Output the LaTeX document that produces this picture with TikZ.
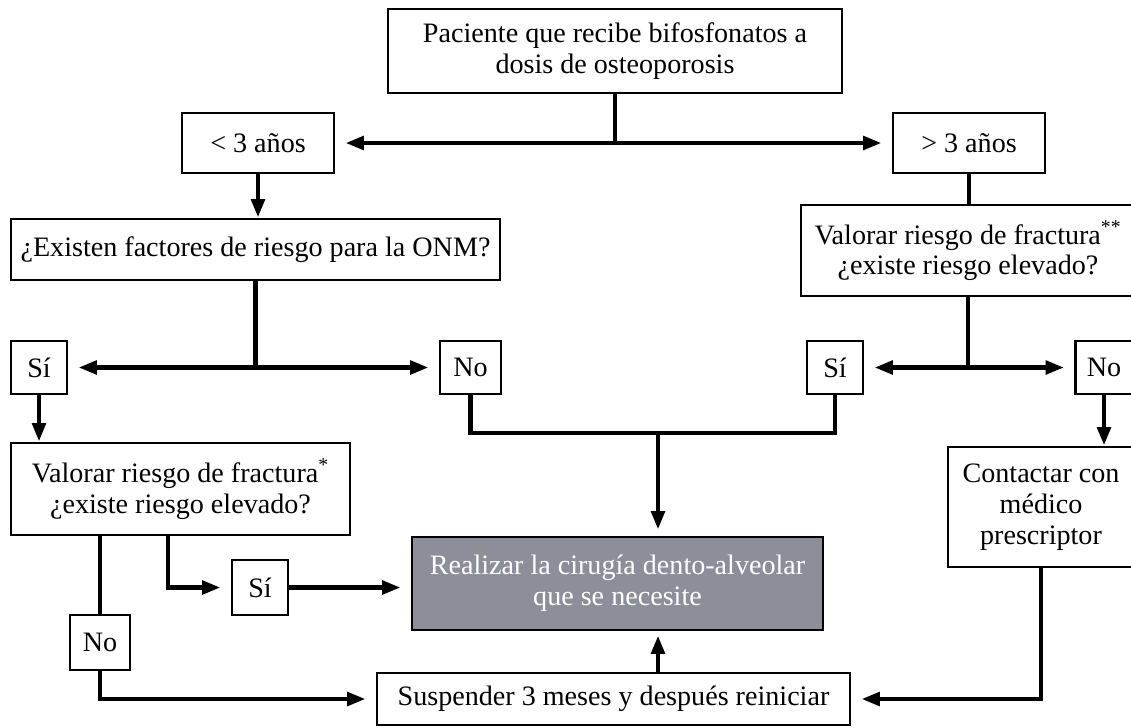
\documentclass[tikz,border=0pt]{standalone}
\usepackage{fontspec}
\setmainfont{Liberation Serif}
\usetikzlibrary{arrows.meta}
\definecolor{grisreal}{RGB}{140,142,154}

\begin{document}
\begin{tikzpicture}[x=0.02cm,y=-0.02cm,
  caja/.style={draw, line width=1.6pt, align=center, inner sep=0pt,
    font=\fontsize{16}{17.5}\selectfont},
  linea/.style={line width=2.8pt},
  flecha/.style={linea, -{Triangle[length=10.5pt,width=7.5pt]}},
  hueco/.style={shorten >=0.2cm}]
\useasboundingbox (0,0) rectangle (1131,727);
%
\node[caja, minimum width=9.08cm, minimum height=1.68cm] (pac) at (615,51)
  {Paciente que recibe bifosfonatos a\\dosis de osteoporosis};
\node[caja, minimum width=3.04cm, minimum height=1.2cm] (menos) at (258,143) {< 3 años};
\node[caja, minimum width=3.04cm, minimum height=1.2cm] (mas) at (969,143) {> 3 años};
\node[caja, minimum width=9.78cm, minimum height=1.22cm] (factores) at (255.5,249.5)
  {¿Existen factores de riesgo para la ONM?};
\node[caja, minimum width=6.68cm, minimum height=1.82cm] (valdos) at (968,250.5)
  {Valorar riesgo de fractura\textsuperscript{**}\\¿existe riesgo elevado?};
%
\node[caja, minimum width=1.12cm, minimum height=1.06cm] (siuno) at (39,367.5) {Sí};
\node[caja, minimum width=1.22cm, minimum height=1.06cm] (nouno) at (470.5,367.5) {No};
\node[caja, minimum width=1.12cm, minimum height=1.06cm] (sidos) at (835,367.5) {Sí};
\node[caja, minimum width=1.14cm, minimum height=1.06cm] (nodos) at (1104,367.5) {No};
%
\node[caja, minimum width=6.78cm, minimum height=1.84cm] (valuno) at (180.5,489)
  {Valorar riesgo de fractura\textsuperscript{*}\\¿existe riesgo elevado?};
\node[caja, minimum width=3.72cm, minimum height=2.4cm] (contacto) at (1041,507)
  {Contactar con\\médico\\prescriptor};
\node[caja, fill=grisreal, text=white, minimum width=8.22cm, minimum height=1.86cm] (cirugia) at (617.5,583.5)
  {Realizar la cirugía dento-alveolar\\que se necesite};
\node[caja, minimum width=1.12cm, minimum height=1.1cm] (sitres) at (260,587.5) {Sí};
\node[caja, minimum width=1.2cm, minimum height=1.1cm] (notres) at (100,642.5) {No};
\node[caja, minimum width=9.46cm, minimum height=1.04cm] (suspender) at (613.5,699)
  {Suspender 3 meses y después reiniciar};
%
\draw[linea] (pac) -- (pac |- menos) coordinate (ja);
\draw[flecha, hueco] (ja) -- (menos);
\draw[flecha, hueco] (ja) -- (mas);
\draw[flecha] (menos.south) -- (menos.south |- factores.north);
\draw[linea] (mas.south) -- (mas.south |- valdos.north);
%
\draw[linea] (factores) -- (factores |- siuno) coordinate (jb);
\draw[flecha, hueco] (jb) -- (siuno);
\draw[flecha, hueco] (jb) -- (nouno);
\draw[linea] (valdos) -- (valdos |- sidos) coordinate (jc);
\draw[flecha, hueco] (jc) -- (sidos);
\draw[flecha, hueco] (jc) -- (nodos);
%
\coordinate (jd) at (658,433);
\draw[linea] (nouno.south) |- (jd) -| (sidos.south);
\draw[flecha, shorten >=0.12cm] (jd) -- (jd |- cirugia.north);
\draw[flecha] (siuno.south) -- (siuno.south |- valuno.north);
\draw[flecha] (nodos.south) -- (nodos.south |- contacto.north);
%
\draw[linea] (valuno.south -| notres) -- (notres);
\draw[flecha, hueco] (notres.south) |- (suspender.west);
\draw[flecha, hueco] ([xshift=-0.25cm]valuno.south) |- (sitres.west);
\draw[flecha, hueco] (sitres.east) -- (sitres.east -| cirugia.west);
\draw[flecha, shorten >=0.08cm] (suspender.north -| jd) -- (cirugia.south -| jd);
\draw[flecha, hueco] (contacto.south) |- (suspender.east);
\end{tikzpicture}
\end{document}
